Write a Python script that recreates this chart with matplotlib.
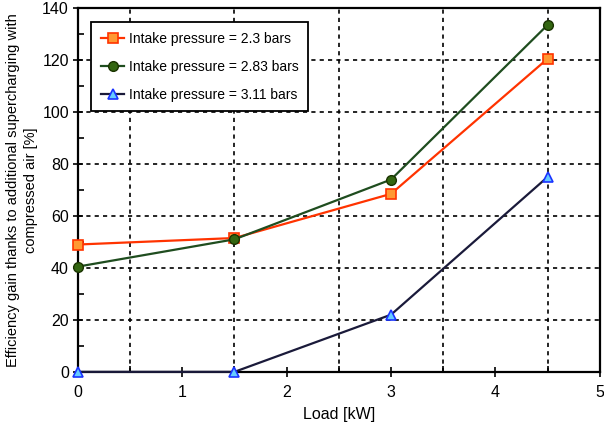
import matplotlib
matplotlib.use('Agg')
import matplotlib.pyplot as plt
import numpy as np

plt.rcParams['font.family'] = ['Liberation Sans', 'DejaVu Sans']

load = [0, 1.5, 3, 4.5]
p_23 = [49, 51.5, 68.5, 120.5]
p_283 = [40.5, 51, 74, 133.5]
p_311 = [0, 0, 22, 75]

fig = plt.figure(figsize=(6.04, 4.24), dpi=100)
ax = fig.add_axes([0.129, 0.123, 0.864, 0.858])

ax.plot(load, p_23, color='#ff3300', lw=1.6, marker='s', ms=7,
        mfc='#ff9933', mec='#ff3300', mew=1.2, label='Intake pressure = 2.3 bars', clip_on=False, zorder=3)
ax.plot(load, p_283, color='#1f4d1f', lw=1.6, marker='o', ms=7,
        mfc='#336611', mec='#1a3300', mew=1.0, label='Intake pressure = 2.83 bars', clip_on=False, zorder=3)
ax.plot(load, p_311, color='#1a1a3a', lw=1.6, marker='^', ms=7,
        mfc='#66ccff', mec='#1a33ff', mew=1.2, label='Intake pressure = 3.11 bars', clip_on=False, zorder=3)

ax.set_xlim(0, 5)
ax.set_ylim(0, 140)
ax.set_xticks(np.arange(0, 5.1, 1))
ax.set_xticks(np.arange(0, 5.1, 0.5), minor=True)
ax.set_yticks(np.arange(0, 141, 20))
ax.set_yticks(np.arange(0, 141, 10), minor=True)
ax.grid(which='major', axis='y', color='black', ls=(0, (2.5, 2.5)), lw=1.2)
ax.grid(which='minor', axis='x', color='black', ls=(0, (2.5, 2.5)), lw=1.2)
ax.tick_params(which='major', direction='inout', length=7, width=1.2, labelsize=11.5)
ax.tick_params(which='minor', direction='in', length=4, width=1.2)
ax.tick_params(axis='x', pad=6)
ax.tick_params(axis='y', pad=3)
for s in ax.spines.values():
    s.set_linewidth(1.6)

ax.set_xlabel('Load [kW]', fontsize=11.5, labelpad=5)
ax.set_ylabel('Efficiency gain thanks to additional supercharging with\ncompressed air [%]',
              fontsize=10.5, labelpad=3, multialignment='center', linespacing=1.4)

leg = ax.legend(loc='upper left', bbox_to_anchor=(0.012, 0.98), fontsize=10,
                frameon=True, fancybox=False, edgecolor='black', framealpha=1,
                handlelength=1.7, handletextpad=0.3, labelspacing=1.0, borderpad=0.7)
leg.get_frame().set_linewidth(1.3)

fig.savefig('out.png', dpi=100)
